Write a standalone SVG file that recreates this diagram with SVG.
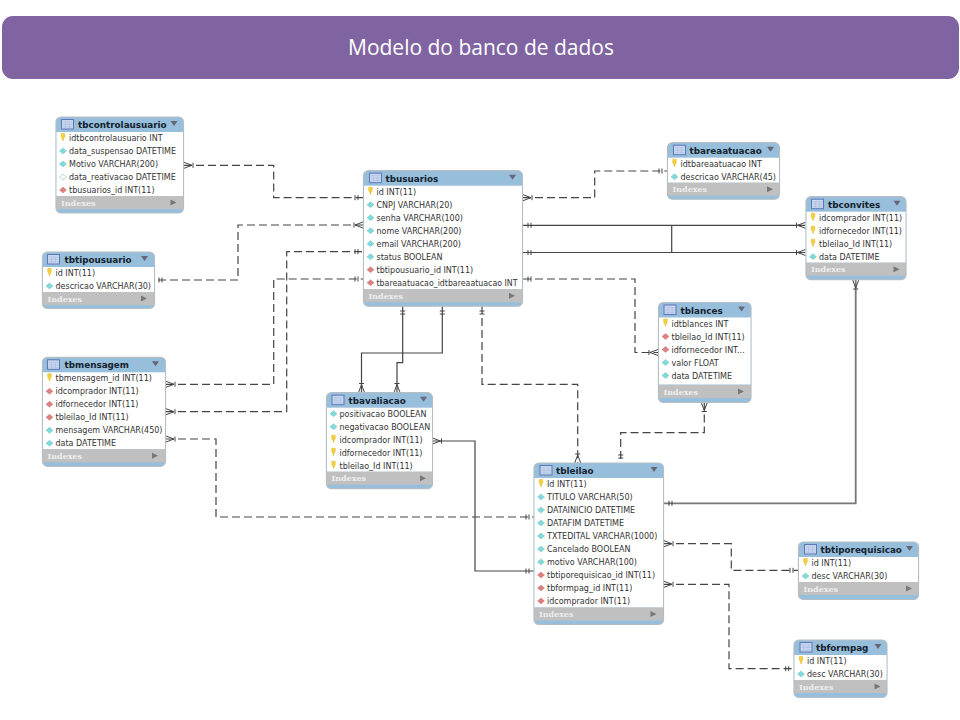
<svg xmlns="http://www.w3.org/2000/svg" width="960" height="720" viewBox="0 0 960 720">
<style>
.b{fill:#97bedb;stroke:#b4bec6;stroke-width:1.2}
.w{fill:#fff}
.g{fill:#c0c0c0}
.t{font:bold 8.8px "DejaVu Sans",sans-serif;fill:#14222e}
.r{font:8px "DejaVu Sans",sans-serif;fill:#333}
.i{font:bold 8px "DejaVu Serif",serif;fill:#eee}
.s{fill:none;stroke:#444;stroke-width:1.2}
.u{fill:none;stroke:#777;stroke-width:1.8}
.d{fill:none;stroke:#444;stroke-width:1.2;stroke-dasharray:8 4}
.m{fill:none;stroke:#444;stroke-width:1}
</style>
<defs>
<g id="crow"><path d="M0-3L8 0L0 3M9-2.500V2.500"/></g>
<g id="bars"><path d="M5-2.500V2.500M8-2.500V2.500"/></g>
<g id="ic"><rect x="0" y="-5" width="12" height="9.500" fill="#c9d6ee" stroke="#5a78b8"/><path d="M1-2.500H11M1 0H11M1 2.500H11M4-2.500V4M8-2.500V4" stroke="#a8bce0" stroke-width=".6" fill="none"/></g>
<path id="k" d="M-1.800-4.500H1.800V-1L.5 1V2.500H-.5V1L-1.800-1Z" fill="#f4d13d" stroke="#d6ae20" stroke-width=".4"/>
<path id="c" d="M-3.500 0L0-3L3.500 0L0 3Z" fill="#7fdbdb" stroke="#6ab5b5" stroke-width=".4"/>
<path id="f" d="M-3.500 0L0-3L3.500 0L0 3Z" fill="#dc8080" stroke="#c06a6a" stroke-width=".4"/>
<path id="h" d="M-3.500 0L0-3L3.500 0L0 3Z" fill="#fff" stroke="#7fbcbc" stroke-width=".6"/>
<path id="dn" d="M-3.500-2.500H3.500L0 2.500Z" fill="#667"/>
<path id="rt" d="M-2.500-3V3L3.500 0Z" fill="#777"/>
</defs>
<rect width="960" height="720" fill="#fff"/>
<g id="title"><rect x="2" y="16" width="957" height="63" rx="11" fill="#8064a2"/><text x="481" y="55" text-anchor="middle" font-family="'Open Sans',sans-serif" font-size="21" fill="#fff" textLength="266" lengthAdjust="spacingAndGlyphs">Modelo do banco de dados</text></g>
<g id="connectors">
<path class="d" d="M184 165.300H273.700V197.700H363"/>
<path class="d" d="M158 280H238V225H363"/>
<path class="d" d="M166 384.300H273.700V279H363"/>
<path class="d" d="M166 411.700H286.700V251.700H363"/>
<path class="d" d="M166 439H216V517H534"/>
<path class="d" d="M523 197.700H594.700V171H667"/>
<path class="s" d="M523 225.300H805"/>
<path class="s" d="M523 252.500H805"/>
<path class="s" d="M671.700 225.300V252.500"/>
<path class="d" d="M523 279H635V352.500H658"/>
<path class="s" d="M402.700 306V362.700H397V392.500"/>
<path class="s" d="M442.300 306V353H361.500V392.500"/>
<path class="d" d="M482 306V384.300H577.700V463"/>
<path class="d" d="M704.300 402.500V432.700H620.700V463"/>
<path class="u" d="M855.700 280V503.300H664"/>
<path class="s" d="M432.500 441H475V571H534"/>
<path class="d" d="M664 543.700H731.300V570.300H798"/>
<path class="d" d="M664 584.300H729V668.700H793.700"/>
<g class="m">
<use href="#crow" transform="translate(184 165.300)"/>
<use href="#bars" transform="translate(363 197.700) rotate(180)"/>
<use href="#bars" transform="translate(154 280)"/>
<use href="#crow" transform="translate(363 225) rotate(180)"/>
<use href="#crow" transform="translate(166 384.300)"/>
<use href="#bars" transform="translate(363 279) rotate(180)"/>
<use href="#crow" transform="translate(166 411.700)"/>
<use href="#bars" transform="translate(363 251.700) rotate(180)"/>
<use href="#crow" transform="translate(166 439)"/>
<use href="#bars" transform="translate(534 517) rotate(180)"/>
<use href="#crow" transform="translate(523 197.700)"/>
<use href="#bars" transform="translate(667 171) rotate(180)"/>
<use href="#bars" transform="translate(523 225.300)"/>
<use href="#crow" transform="translate(805.500 225.300) rotate(180)"/>
<use href="#bars" transform="translate(523 252.500)"/>
<use href="#crow" transform="translate(805.500 252.500) rotate(180)"/>
<use href="#bars" transform="translate(523 279)"/>
<use href="#crow" transform="translate(658 352.500) rotate(180)"/>
<use href="#bars" transform="translate(402.700 306) rotate(90)"/>
<use href="#crow" transform="translate(397 392.500) rotate(-90)"/>
<use href="#bars" transform="translate(442.300 306) rotate(90)"/>
<use href="#crow" transform="translate(361.500 392.500) rotate(-90)"/>
<use href="#bars" transform="translate(482 306) rotate(90)"/>
<use href="#crow" transform="translate(577.700 463) rotate(-90)"/>
<use href="#crow" transform="translate(704.300 402.500) rotate(90)"/>
<use href="#bars" transform="translate(620.700 463) rotate(-90)"/>
<use href="#crow" transform="translate(855.700 280) rotate(90)"/>
<use href="#bars" transform="translate(664 503.300)"/>
<use href="#crow" transform="translate(432.500 441)"/>
<use href="#bars" transform="translate(534 571) rotate(180)"/>
<use href="#crow" transform="translate(664 543.700)"/>
<use href="#bars" transform="translate(798 570.300) rotate(180)"/>
<use href="#crow" transform="translate(664 584.300)"/>
<use href="#bars" transform="translate(793.700 668.700) rotate(180)"/>
</g>
</g>
<g id="tbcontrolausuario" transform="translate(56 117)">
<rect class="b" width="127.500" height="96" rx="5"/><rect class="w" x=".5" y="15" width="126.500" height="64"/><rect class="g" x=".5" y="79" width="126.500" height="13"/>
<use href="#ic" transform="translate(5.500 7.500)"/><text class="t" x="22" y="11">tbcontrolausuario</text><use href="#dn" transform="translate(118 6.500)"/>
<use href="#k" transform="translate(7 21)"/><text class="r" x="13" y="24">idtbcontrolausuario INT</text>
<use href="#c" transform="translate(7 34)"/><text class="r" x="13" y="37">data_suspensao DATETIME</text>
<use href="#c" transform="translate(7 47)"/><text class="r" x="13" y="50">Motivo VARCHAR(200)</text>
<use href="#h" transform="translate(7 60)"/><text class="r" x="13" y="63">data_reativacao DATETIME</text>
<use href="#f" transform="translate(7 73)"/><text class="r" x="13" y="76">tbusuarios_id INT(11)</text>
<text class="i" x="5" y="88.500">Indexes</text><use href="#rt" transform="translate(117 85.500)"/>
</g>
<g id="tbtipousuario" transform="translate(42.500 252)">
<rect class="b" width="112" height="56.500" rx="5"/><rect class="w" x=".5" y="15" width="111" height="25"/><rect class="g" x=".5" y="40" width="111" height="13"/>
<use href="#ic" transform="translate(5 7.500)"/><text class="t" x="22" y="11">tbtipousuario</text><use href="#dn" transform="translate(102 6.500)"/>
<use href="#k" transform="translate(7 21)"/><text class="r" x="13" y="24">id INT(11)</text>
<use href="#c" transform="translate(7 34)"/><text class="r" x="13" y="37">descricao VARCHAR(30)</text>
<text class="i" x="5" y="49.500">Indexes</text><use href="#rt" transform="translate(101 46.500)"/>
</g>
<g id="tbusuarios" transform="translate(363.500 170.700)">
<rect class="b" width="159" height="135.500" rx="5"/><rect class="w" x=".5" y="15" width="158" height="103.500"/><rect class="g" x=".5" y="118.500" width="158" height="13"/>
<use href="#ic" transform="translate(6 7.500)"/><text class="t" x="22" y="11">tbusuarios</text><use href="#dn" transform="translate(149 6.500)"/>
<use href="#k" transform="translate(7 21)"/><text class="r" x="13" y="24">id INT(11)</text>
<use href="#c" transform="translate(7 34)"/><text class="r" x="13" y="37">CNPJ VARCHAR(20)</text>
<use href="#c" transform="translate(7 47)"/><text class="r" x="13" y="50">senha VARCHAR(100)</text>
<use href="#c" transform="translate(7 60)"/><text class="r" x="13" y="63">nome VARCHAR(200)</text>
<use href="#c" transform="translate(7 73)"/><text class="r" x="13" y="76">email VARCHAR(200)</text>
<use href="#c" transform="translate(7 86)"/><text class="r" x="13" y="89">status BOOLEAN</text>
<use href="#f" transform="translate(7 99)"/><text class="r" x="13" y="102">tbtipousuario_id INT(11)</text>
<use href="#f" transform="translate(7 112)"/><text class="r" x="13" y="115" textLength="141" lengthAdjust="spacingAndGlyphs">tbareaatuacao_idtbareaatuacao INT</text>
<text class="i" x="5" y="128">Indexes</text><use href="#rt" transform="translate(148 125)"/>
</g>
<g id="tbareaatuacao" transform="translate(667.500 142.700)">
<rect class="b" width="112" height="56.500" rx="5"/><rect class="w" x=".5" y="15" width="111" height="25"/><rect class="g" x=".5" y="40" width="111" height="13"/>
<use href="#ic" transform="translate(6 7.500)"/><text class="t" x="22" y="11">tbareaatuacao</text><use href="#dn" transform="translate(103 6.500)"/>
<use href="#k" transform="translate(7 21)"/><text class="r" x="13" y="24">idtbareaatuacao INT</text>
<use href="#c" transform="translate(7 34)"/><text class="r" x="13" y="37">descricao VARCHAR(45)</text>
<text class="i" x="5" y="49.500">Indexes</text><use href="#rt" transform="translate(102 46.500)"/>
</g>
<g id="tbconvites" transform="translate(806 196.700)">
<rect class="b" width="100" height="83" rx="5"/><rect class="w" x=".5" y="15" width="99" height="51"/><rect class="g" x=".5" y="66" width="99" height="13"/>
<use href="#ic" transform="translate(5.500 7.500)"/><text class="t" x="22" y="11">tbconvites</text><use href="#dn" transform="translate(91 6.500)"/>
<use href="#k" transform="translate(7 21)"/><text class="r" x="13" y="24">idcomprador INT(11)</text>
<use href="#k" transform="translate(7 34)"/><text class="r" x="13" y="37">idfornecedor INT(11)</text>
<use href="#k" transform="translate(7 47)"/><text class="r" x="13" y="50">tbleilao_Id INT(11)</text>
<use href="#c" transform="translate(7 60)"/><text class="r" x="13" y="63">data DATETIME</text>
<text class="i" x="5" y="75.500">Indexes</text><use href="#rt" transform="translate(90 72.500)"/>
</g>
<g id="tblances" transform="translate(658.500 302.500)">
<rect class="b" width="92.500" height="100" rx="5"/><rect class="w" x=".5" y="15" width="91.500" height="67"/><rect class="g" x=".5" y="82.500" width="91.500" height="13"/>
<use href="#ic" transform="translate(5.500 7.500)"/><text class="t" x="22" y="11">tblances</text><use href="#dn" transform="translate(83 6.500)"/>
<use href="#k" transform="translate(7 21)"/><text class="r" x="13" y="24">idtblances INT</text>
<use href="#f" transform="translate(7 34)"/><text class="r" x="13" y="37">tbleilao_Id INT(11)</text>
<use href="#f" transform="translate(7 47)"/><text class="r" x="13" y="50">idfornecedor INT...</text>
<use href="#c" transform="translate(7 60)"/><text class="r" x="13" y="63">valor FLOAT</text>
<use href="#c" transform="translate(7 73)"/><text class="r" x="13" y="76">data DATETIME</text>
<text class="i" x="5" y="92">Indexes</text><use href="#rt" transform="translate(82 89)"/>
</g>
<g id="tbmensagem" transform="translate(42.500 357.300)">
<rect class="b" width="123" height="109" rx="5"/><rect class="w" x=".5" y="15" width="122" height="77"/><rect class="g" x=".5" y="92" width="122" height="13"/>
<use href="#ic" transform="translate(5 7.500)"/><text class="t" x="22" y="11">tbmensagem</text><use href="#dn" transform="translate(113 6.500)"/>
<use href="#k" transform="translate(7 21)"/><text class="r" x="13" y="24">tbmensagem_id INT(11)</text>
<use href="#f" transform="translate(7 34)"/><text class="r" x="13" y="37">idcomprador INT(11)</text>
<use href="#f" transform="translate(7 47)"/><text class="r" x="13" y="50">idfornecedor INT(11)</text>
<use href="#f" transform="translate(7 60)"/><text class="r" x="13" y="63">tbleilao_Id INT(11)</text>
<use href="#c" transform="translate(7 73)"/><text class="r" x="13" y="76">mensagem VARCHAR(450)</text>
<use href="#c" transform="translate(7 86)"/><text class="r" x="13" y="89">data DATETIME</text>
<text class="i" x="5" y="101.500">Indexes</text><use href="#rt" transform="translate(112 98.500)"/>
</g>
<g id="tbavaliacao" transform="translate(326.500 392.700)">
<rect class="b" width="106" height="96" rx="5"/><rect class="w" x=".5" y="15" width="105" height="64"/><rect class="g" x=".5" y="79" width="105" height="13"/>
<use href="#ic" transform="translate(5.500 7.500)"/><text class="t" x="22" y="11">tbavaliacao</text><use href="#dn" transform="translate(97 6.500)"/>
<use href="#c" transform="translate(7 21)"/><text class="r" x="13" y="24">positivacao BOOLEAN</text>
<use href="#c" transform="translate(7 34)"/><text class="r" x="13" y="37">negativacao BOOLEAN</text>
<use href="#k" transform="translate(7 47)"/><text class="r" x="13" y="50">idcomprador INT(11)</text>
<use href="#k" transform="translate(7 60)"/><text class="r" x="13" y="63">idfornecedor INT(11)</text>
<use href="#k" transform="translate(7 73)"/><text class="r" x="13" y="76">tbleilao_Id INT(11)</text>
<text class="i" x="5" y="88.500">Indexes</text><use href="#rt" transform="translate(96 85.500)"/>
</g>
<g id="tbleilao" transform="translate(534 463)">
<rect class="b" width="129.500" height="161.500" rx="5"/><rect class="w" x=".5" y="15" width="128.500" height="129.500"/><rect class="g" x=".5" y="144.500" width="128.500" height="13"/>
<use href="#ic" transform="translate(6 7.500)"/><text class="t" x="22" y="11">tbleilao</text><use href="#dn" transform="translate(120 6.500)"/>
<use href="#k" transform="translate(7 21)"/><text class="r" x="13" y="24">Id INT(11)</text>
<use href="#c" transform="translate(7 34)"/><text class="r" x="13" y="37">TITULO VARCHAR(50)</text>
<use href="#c" transform="translate(7 47)"/><text class="r" x="13" y="50">DATAINICIO DATETIME</text>
<use href="#c" transform="translate(7 60)"/><text class="r" x="13" y="63">DATAFIM DATETIME</text>
<use href="#c" transform="translate(7 73)"/><text class="r" x="13" y="76">TXTEDITAL VARCHAR(1000)</text>
<use href="#c" transform="translate(7 86)"/><text class="r" x="13" y="89">Cancelado BOOLEAN</text>
<use href="#c" transform="translate(7 99)"/><text class="r" x="13" y="102">motivo VARCHAR(100)</text>
<use href="#f" transform="translate(7 112)"/><text class="r" x="13" y="115">tbtiporequisicao_id INT(11)</text>
<use href="#f" transform="translate(7 125)"/><text class="r" x="13" y="128">tbformpag_id INT(11)</text>
<use href="#f" transform="translate(7 138)"/><text class="r" x="13" y="141">idcomprador INT(11)</text>
<text class="i" x="5" y="154">Indexes</text><use href="#rt" transform="translate(119 151)"/>
</g>
<g id="tbtiporequisicao" transform="translate(798.500 542)">
<rect class="b" width="120" height="57.500" rx="5"/><rect class="w" x=".5" y="15" width="119" height="25"/><rect class="g" x=".5" y="40" width="119" height="13"/>
<use href="#ic" transform="translate(6 7.500)"/><text class="t" x="22" y="11">tbtiporequisicao</text><use href="#dn" transform="translate(111 6.500)"/>
<use href="#k" transform="translate(7 21)"/><text class="r" x="13" y="24">id INT(11)</text>
<use href="#c" transform="translate(7 34)"/><text class="r" x="13" y="37">desc VARCHAR(30)</text>
<text class="i" x="5" y="49.500">Indexes</text><use href="#rt" transform="translate(110 46.500)"/>
</g>
<g id="tbformpag" transform="translate(794 640)">
<rect class="b" width="93" height="57.500" rx="5"/><rect class="w" x=".5" y="15" width="92" height="25"/><rect class="g" x=".5" y="40" width="92" height="13"/>
<use href="#ic" transform="translate(6 7.500)"/><text class="t" x="22" y="11">tbformpag</text><use href="#dn" transform="translate(84 6.500)"/>
<use href="#k" transform="translate(7 21)"/><text class="r" x="13" y="24">id INT(11)</text>
<use href="#c" transform="translate(7 34)"/><text class="r" x="13" y="37">desc VARCHAR(30)</text>
<text class="i" x="5" y="49.500">Indexes</text><use href="#rt" transform="translate(83 46.500)"/>
</g>
</svg>
